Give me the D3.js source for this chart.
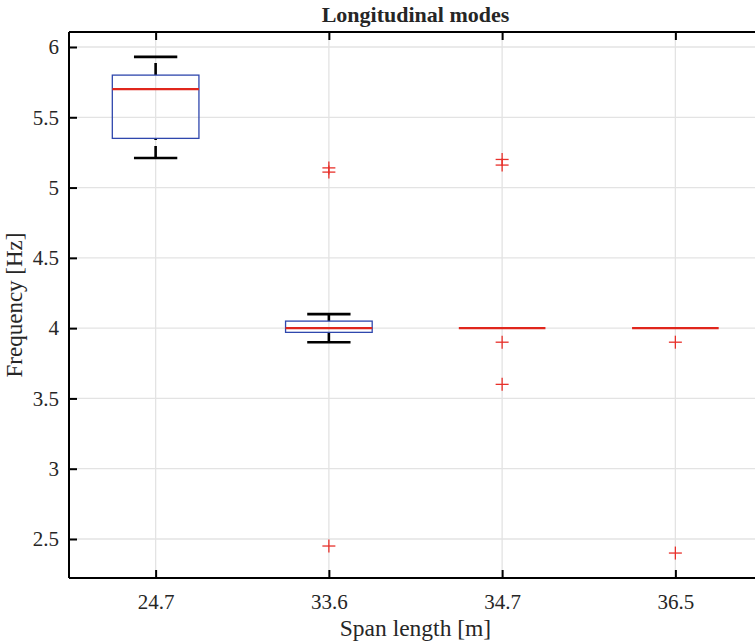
<!DOCTYPE html>
<html>
<head>
<meta charset="utf-8">
<script src="https://cdn.jsdelivr.net/npm/d3@7"></script>
<style>
  html, body { margin: 0; padding: 0; background: #fff; }
  svg { display: block; }
  text { font-family: "Liberation Serif", "Times New Roman", serif; fill: #262626; }
</style>
</head>
<body>
<svg id="chart" width="755" height="642"></svg>
<script>
// ---- data ----
const categories = ["24.7", "33.6", "34.7", "36.5"];
const lowerWhisker = [5.21, 3.90, 4.00, 4.00];
const q1Values     = [5.35, 3.97, 4.00, 4.00];
const medians      = [5.70, 4.00, 4.00, 4.00];
const q3Values     = [5.80, 4.05, 4.00, 4.00];
const upperWhisker = [5.93, 4.10, 4.00, 4.00];
const outliers     = [[], [5.14, 5.11, 2.45], [5.20, 5.16, 3.90, 3.60], [3.90, 2.40]];
const yTicks = [2.5, 3, 3.5, 4, 4.5, 5, 5.5, 6];
const yTickLabels = ["2.5", "3", "3.5", "4", "4.5", "5", "5.5", "6"];
const titleText = "Longitudinal modes";
const xLabelText = "Span length [m]";
const yLabelText = "Frequency [Hz]";

// ---- layout ----
const svg = d3.select("#chart");
const pL = 69, pR = 762, pT = 32, pB = 578;

const x = d3.scaleLinear().domain([0.5, categories.length + 0.5]).range([pL, pR]);
const y = d3.scaleLinear().domain([2.2225, 6.1067]).range([pB, pT]);

const boxHalf = 0.25, capHalf = 0.125;

// grid
const grid = svg.append("g");
grid.selectAll("line.gy").data(yTicks).enter().append("line")
  .attr("x1", pL).attr("x2", pR)
  .attr("y1", d => y(d)).attr("y2", d => y(d))
  .attr("stroke", "#e3e3e3").attr("stroke-width", 1.3);
grid.selectAll("line.gx").data(categories).enter().append("line")
  .attr("x1", (d, i) => x(i + 1)).attr("x2", (d, i) => x(i + 1))
  .attr("y1", pT).attr("y2", pB)
  .attr("stroke", "#e3e3e3").attr("stroke-width", 1.3);

// boxes
const g = svg.append("g");
categories.forEach((c, i) => {
  const cx = x(i + 1);
  if (upperWhisker[i] > q3Values[i]) {
    g.append("line").attr("x1", cx).attr("x2", cx)
      .attr("y1", y(q3Values[i])).attr("y2", y(upperWhisker[i]))
      .attr("stroke", "#000").attr("stroke-width", 2.6).attr("stroke-dasharray", "12,6");
    g.append("line").attr("x1", x(i + 1 - capHalf)).attr("x2", x(i + 1 + capHalf))
      .attr("y1", y(upperWhisker[i])).attr("y2", y(upperWhisker[i]))
      .attr("stroke", "#000").attr("stroke-width", 2.6);
  }
  if (lowerWhisker[i] < q1Values[i]) {
    g.append("line").attr("x1", cx).attr("x2", cx)
      .attr("y1", y(lowerWhisker[i])).attr("y2", y(q1Values[i]))
      .attr("stroke", "#000").attr("stroke-width", 2.6).attr("stroke-dasharray", "12,6");
    g.append("line").attr("x1", x(i + 1 - capHalf)).attr("x2", x(i + 1 + capHalf))
      .attr("y1", y(lowerWhisker[i])).attr("y2", y(lowerWhisker[i]))
      .attr("stroke", "#000").attr("stroke-width", 2.6);
  }
  if (q3Values[i] > q1Values[i]) {
    g.append("rect")
      .attr("x", x(i + 1 - boxHalf)).attr("width", x(i + 1 + boxHalf) - x(i + 1 - boxHalf))
      .attr("y", y(q3Values[i])).attr("height", y(q1Values[i]) - y(q3Values[i]))
      .attr("fill", "none").attr("stroke", "#2f47ad").attr("stroke-width", 1.3);
  }
  g.append("line").attr("x1", x(i + 1 - boxHalf)).attr("x2", x(i + 1 + boxHalf))
    .attr("y1", y(medians[i])).attr("y2", y(medians[i]))
    .attr("stroke", "#e0261c").attr("stroke-width", 2.2);
  outliers[i].forEach(v => {
    const py = y(v);
    g.append("line").attr("x1", cx - 6.5).attr("x2", cx + 6.5).attr("y1", py).attr("y2", py)
      .attr("stroke", "#e8302a").attr("stroke-width", 1.3);
    g.append("line").attr("x1", cx).attr("x2", cx).attr("y1", py - 6.5).attr("y2", py + 6.5)
      .attr("stroke", "#e8302a").attr("stroke-width", 1.3);
  });
});

// axes
const yAxis = d3.axisLeft(y).tickValues(yTicks).tickFormat((d, i) => yTickLabels[i])
  .tickSizeInner(-8).tickSizeOuter(0).tickPadding(10);
const ya = svg.append("g").attr("transform", `translate(${pL},0)`).call(yAxis);
ya.select(".domain").remove();
ya.selectAll(".tick line").attr("stroke", "#000").attr("stroke-width", 2);
ya.selectAll(".tick text").attr("font-size", 21).attr("font-family", "Liberation Serif").attr("fill", "#262626");

const xAxis = d3.axisBottom(x).tickValues(categories.map((c, i) => i + 1))
  .tickFormat((d, i) => categories[i]).tickSizeInner(-8).tickSizeOuter(0).tickPadding(16);
const xa = svg.append("g").attr("transform", `translate(0,${pB})`).call(xAxis);
xa.select(".domain").remove();
xa.selectAll(".tick line").attr("stroke", "#000").attr("stroke-width", 2);
xa.selectAll(".tick text").attr("font-size", 21).attr("font-family", "Liberation Serif").attr("fill", "#262626");

const xTop = d3.axisTop(x).tickValues(categories.map((c, i) => i + 1))
  .tickFormat("").tickSizeInner(-8).tickSizeOuter(0);
const xt = svg.append("g").attr("transform", `translate(0,${pT})`).call(xTop);
xt.select(".domain").remove();
xt.selectAll(".tick line").attr("stroke", "#000").attr("stroke-width", 2);

// frame
svg.append("line").attr("x1", pL).attr("x2", pR).attr("y1", pB).attr("y2", pB)
  .attr("stroke", "#000").attr("stroke-width", 2);
svg.append("line").attr("x1", pL).attr("x2", pR).attr("y1", pT).attr("y2", pT)
  .attr("stroke", "#000").attr("stroke-width", 2);
svg.append("line").attr("x1", pL).attr("x2", pL).attr("y1", pT).attr("y2", pB)
  .attr("stroke", "#000").attr("stroke-width", 2);

// labels
svg.append("text").attr("x", (pL + pR) / 2).attr("y", 22)
  .attr("text-anchor", "middle").attr("font-size", 22).attr("font-weight", "bold")
  .attr("fill", "#000").text(titleText);
svg.append("text").attr("x", (pL + pR) / 2).attr("y", 636)
  .attr("text-anchor", "middle").attr("font-size", 23.5).text(xLabelText);
svg.append("text").attr("transform", `translate(22,${(pT + pB) / 2}) rotate(-90)`)
  .attr("text-anchor", "middle").attr("font-size", 23).text(yLabelText);
</script>
</body>
</html>
